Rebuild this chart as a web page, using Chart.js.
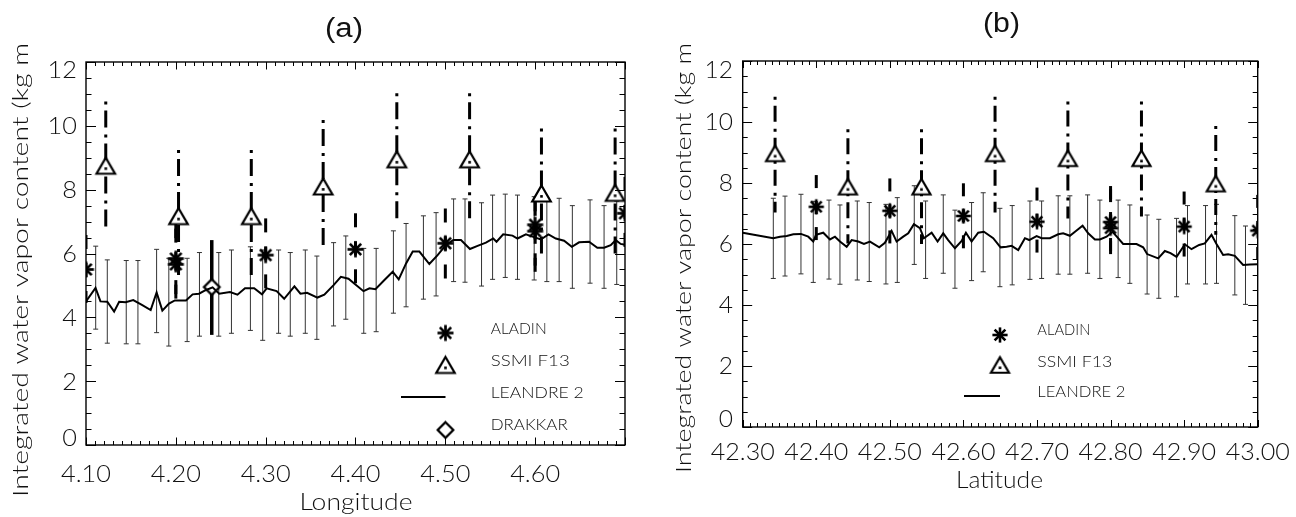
<!DOCTYPE html>
<html><head><meta charset="utf-8">
<script src="https://cdn.jsdelivr.net/npm/chart.js@4.4.1/dist/chart.umd.min.js"></script>
<style>
html,body{margin:0;padding:0;background:#fff;width:1296px;height:517px;overflow:hidden}
canvas{position:absolute;top:0}
#ca{left:0}#cb{left:648px}
</style></head><body>
<canvas id="ca" width="648" height="517"></canvas>
<canvas id="cb" width="648" height="517"></canvas>
<script>
// ---------- Panel (a): longitude section ----------
const lonLineA = [4.100,4.1106,4.1161,4.1237,4.1313,4.1369,4.1442,4.1526,4.1622,4.1720,4.1786,4.1850,4.1924,4.1989,4.2113,4.2187,4.2258,4.2331,4.2409,4.2483,4.2603,4.2686,4.2770,4.2872,4.2959,4.3011,4.3122,4.3206,4.3320,4.3387,4.3461,4.3576,4.3653,4.3756,4.3837,4.3922,4.3989,4.4089,4.4156,4.4222,4.4322,4.4414,4.4481,4.4563,4.4637,4.4711,4.4822,4.4914,4.5008,4.5089,4.5174,4.5274,4.5359,4.5452,4.5533,4.5570,4.5644,4.5748,4.5803,4.5897,4.5970,4.6063,4.6148,4.6230,4.6322,4.6408,4.6489,4.6600,4.6692,4.6767,4.6841,4.6897,4.6952,4.7000];
const iwvLineA = [4.50,4.92,4.50,4.49,4.18,4.49,4.47,4.54,4.39,4.23,4.78,4.21,4.43,4.53,4.53,4.72,4.74,4.85,4.94,4.74,4.79,4.71,4.91,4.91,4.72,4.91,4.82,4.58,4.97,4.74,4.77,4.62,4.71,5.01,5.27,5.21,5.05,4.82,4.91,4.88,5.17,5.43,5.19,5.69,6.06,6.06,5.67,5.95,6.27,6.42,6.42,6.14,6.24,6.34,6.47,6.37,6.60,6.56,6.47,6.60,6.53,6.44,6.60,6.47,6.40,6.21,6.35,6.37,6.18,6.18,6.26,6.42,6.30,6.27];
const lonBarsA = [4.1108,4.1237,4.1448,4.1578,4.1786,4.1922,4.2126,4.2263,4.2478,4.2619,4.2830,4.2967,4.3144,4.3274,4.3441,4.3570,4.3756,4.3892,4.4092,4.4230,4.4422,4.4563,4.4756,4.4897,4.5092,4.5219,4.5403,4.5526,4.5667,4.5803,4.5989,4.6130,4.6267,4.6414,4.6611,4.6767,4.6908];
const barLoA = [3.63,3.19,3.17,3.17,3.52,3.10,3.24,3.41,3.41,3.50,3.59,3.28,3.50,3.41,3.50,3.31,3.73,3.94,3.50,3.55,4.13,4.33,4.57,4.67,5.12,5.10,4.98,5.19,5.25,5.19,5.17,5.12,5.12,4.91,5.07,4.91,5.03];
const barHiA = [6.23,5.80,5.78,5.78,6.13,5.85,5.85,6.03,6.03,6.11,6.21,6.11,6.11,6.03,6.11,5.92,6.34,6.55,6.16,6.16,6.71,6.94,7.18,7.28,7.71,7.71,7.59,7.83,7.86,7.83,7.78,7.73,7.73,7.50,7.68,7.50,7.64];
const lonAladinA = [4.10,4.20,4.20,4.30,4.40,4.50,4.60,4.60,4.70];
const iwvAladinA = [5.50,5.84,5.66,5.95,6.13,6.32,6.90,6.70,7.26];
const aladinLoA  = [4.45,4.72,4.58,4.86,4.95,5.10,5.62,5.42,6.10];
const aladinHiA  = [6.58,6.92,6.78,7.10,7.26,7.41,7.76,7.62,8.40];
const lonSsmiA = [4.122,4.203,4.284,4.364,4.446,4.527,4.607,4.689];
const iwvSsmiA = [8.75,7.17,7.17,8.10,8.95,8.95,7.88,7.90];
const ssmiLoA  = [6.84,5.20,5.15,6.21,7.00,7.00,5.85,5.90];
const ssmiHiA  = [10.76,9.24,9.24,10.18,11.02,11.02,9.92,9.92];
const lonDrakkar = [4.240];
const iwvDrakkar = [4.95];
const drakkarLo  = [3.45];
const drakkarHi  = [6.42];
const lonTicks = [4.10,4.20,4.30,4.40,4.50,4.60];
const lonTickLabels = ['4.10','4.20','4.30','4.40','4.50','4.60'];

// ---------- Panel (b): latitude section ----------
const latLineB = [42.300,42.3416,42.3507,42.3598,42.3688,42.3792,42.3891,42.3959,42.3996,42.4095,42.4186,42.4254,42.4322,42.4413,42.4481,42.4571,42.4648,42.4730,42.4856,42.4933,42.5024,42.5092,42.5182,42.5250,42.5327,42.5409,42.5463,42.5568,42.5649,42.5726,42.5793,42.5885,42.5976,42.6034,42.6111,42.6201,42.6279,42.6405,42.6505,42.6587,42.6655,42.6745,42.6836,42.6894,42.6995,42.7063,42.7175,42.7288,42.7356,42.7447,42.7538,42.7620,42.7696,42.7787,42.7855,42.7946,42.8027,42.8103,42.8171,42.8262,42.8353,42.8443,42.8497,42.8647,42.8738,42.8815,42.8897,42.9010,42.9100,42.9204,42.9281,42.9372,42.9440,42.9530,42.9598,42.9689,42.9802,42.9893,43.0000];
const iwvLineB = [6.37,6.19,6.24,6.26,6.32,6.33,6.24,6.08,6.30,6.37,6.15,6.24,6.08,5.91,6.13,6.08,6.00,6.08,5.89,6.04,6.43,6.08,6.24,6.35,6.65,6.52,6.19,6.37,6.08,6.35,6.13,5.86,6.10,6.37,6.08,6.37,6.40,6.19,5.89,5.91,5.94,5.80,6.19,6.13,6.26,6.19,6.19,6.32,6.35,6.27,6.44,6.60,6.35,6.15,6.15,6.24,6.40,6.19,6.00,6.00,6.00,5.89,5.67,5.53,5.77,5.70,5.58,5.99,5.83,5.97,6.02,6.30,6.00,5.64,5.66,5.61,5.31,5.33,5.34];
const latBarsB = [42.3416,42.3575,42.3792,42.3959,42.4173,42.4322,42.4557,42.4720,42.4947,42.5101,42.5332,42.5486,42.5726,42.5885,42.6111,42.6269,42.6496,42.6663,42.6904,42.7063,42.7288,42.7447,42.7688,42.7855,42.8103,42.8262,42.8497,42.8656,42.8897,42.9046,42.9291,42.9440,42.9689,42.9834];
const barLoB = [4.87,4.95,5.02,4.74,4.85,4.68,4.82,4.77,4.69,4.74,5.33,4.87,5.04,4.55,4.80,5.09,4.60,4.66,4.84,4.87,5.01,5.01,5.04,4.87,4.90,4.71,4.36,4.22,4.27,4.69,4.69,4.71,4.33,4.02];
const barHiB = [7.50,7.57,7.63,7.40,7.44,7.28,7.41,7.36,7.30,7.52,7.91,7.41,7.61,7.11,7.36,7.68,7.17,7.26,7.41,7.41,7.58,7.58,7.61,7.44,7.44,7.28,6.95,6.81,6.84,7.26,7.26,7.30,6.93,6.59];
const latAladinB = [42.40,42.50,42.60,42.70,42.80,42.80,42.90,43.00];
const iwvAladinB = [7.22,7.09,6.92,6.73,6.72,6.52,6.57,6.44];
const aladinLoB  = [5.86,5.73,5.58,5.42,5.40,5.28,5.31,5.17];
const aladinHiB  = [8.26,8.15,7.99,7.85,7.90,7.80,7.72,7.61];
const latSsmiB = [42.344,42.443,42.543,42.643,42.742,42.842,42.943];
const iwvSsmiB = [8.97,7.88,7.88,8.97,8.81,8.81,7.98];
const ssmiLoB  = [7.03,6.02,6.00,7.03,6.84,6.90,6.30];
const ssmiHiB  = [10.83,9.76,9.76,10.83,10.67,10.67,9.87];
const latTicks = [42.30,42.40,42.50,42.60,42.70,42.80,42.90,43.00];
const latTickLabels = ['42.30','42.40','42.50','42.60','42.70','42.80','42.90','43.00'];

// ---------- shared ----------
const iwvTicks = [0,2,4,6,8,10,12];
const iwvTickLabels = ['0','2','4','6','8','10','12'];
const yTitle = 'Integrated water vapor content (kg m';
const legendNames = ['ALADIN','SSMI F13','LEANDRE 2','DRAKKAR'];

// ---------- marker images ----------
function mkCanvas(w,h){const c=document.createElement('canvas');c.width=w;c.height=h;return c;}
function asterisk(r,lw){
  const s=Math.ceil(2*r+lw+2), c=mkCanvas(s,s), g=c.getContext('2d'), m=s/2;
  g.strokeStyle='#000';g.lineWidth=lw;
  for(let k=0;k<4;k++){const an=k*Math.PI/4;g.beginPath();
    g.moveTo(m+r*Math.sin(an),m-r*Math.cos(an));g.lineTo(m-r*Math.sin(an),m+r*Math.cos(an));g.stroke();}
  return c;
}
function triangle(w,h,lw){
  const W=Math.ceil(w+lw*2+2),H=Math.ceil(h+lw*2+2),c=mkCanvas(W,H),g=c.getContext('2d');
  const cx=W/2, top=(H-h)/2, bot=top+h;
  g.lineWidth=lw;g.strokeStyle='#000';g.fillStyle='#fff';g.lineJoin='miter';
  g.beginPath();g.moveTo(cx,top);g.lineTo(cx+w/2,bot);g.lineTo(cx-w/2,bot);g.closePath();g.fill();g.stroke();
  g.fillStyle='#000';g.fillRect(cx-1.3,top+h*0.68-1.3,2.6,2.6);
  return c;
}
function diamond(r,lw){
  const s=Math.ceil(2*r+lw*2+2),c=mkCanvas(s,s),g=c.getContext('2d'),m=s/2;
  g.lineWidth=lw;g.strokeStyle='#000';g.fillStyle='#fff';
  g.beginPath();g.moveTo(m,m-r);g.lineTo(m+r,m);g.lineTo(m,m+r);g.lineTo(m-r,m);g.closePath();g.fill();g.stroke();
  return c;
}
const AST=asterisk(8,2.7), TRI=triangle(18.5,16,2.2), DIA=diamond(7.8,2.3);
const ASTb=asterisk(7.6,2.6), TRIb=triangle(18,15.5,2.2);

// ---------- plugins ----------
const errPlugin={
  id:'err',
  beforeDatasetsDraw(chart){
    const {ctx,chartArea:a,scales:{x,y}}=chart;
    ctx.save();ctx.beginPath();ctx.rect(a.left,a.top,a.right-a.left,a.bottom-a.top);ctx.clip();
    chart.data.datasets.forEach(ds=>{
      if(!ds.errLo) return;
      ds.data.forEach((p,i)=>{
        const px=x.getPixelForValue(p.x), yt=y.getPixelForValue(ds.errHi[i]), yb=y.getPixelForValue(ds.errLo[i]);
        ctx.beginPath();ctx.setLineDash(ds.errDash||[]);ctx.lineDashOffset=0;
        ctx.strokeStyle=ds.errColor||'#000';ctx.lineWidth=ds.errWidth||1;ctx.lineCap='butt';
        ctx.moveTo(px,yt);ctx.lineTo(px,yb);ctx.stroke();
        if(ds.errCap){ctx.setLineDash([]);ctx.beginPath();
          ctx.moveTo(px-ds.errCap,yt);ctx.lineTo(px+ds.errCap,yt);
          ctx.moveTo(px-ds.errCap,yb);ctx.lineTo(px+ds.errCap,yb);ctx.stroke();}
      });
    });
    ctx.restore();
  }
};
function fitText(ctx,txt,x,y,font,targetW,align,baseline,rot){
  ctx.save();ctx.font=font;const w=ctx.measureText(txt).width;const sx=targetW?targetW/w:1;
  ctx.translate(x,y);if(rot)ctx.rotate(rot);ctx.scale(sx,1);
  ctx.textAlign=align;ctx.textBaseline=baseline;ctx.fillStyle='#111';ctx.fillText(txt,0,0);ctx.restore();
}
const LIGHT='300 ', FAM='Lato, "Open Sans", "DejaVu Sans", sans-serif';
const decoPlugin={
  id:'deco',
  afterDraw(chart,args,o){
    const {ctx,chartArea:a,scales:{x,y}}=chart;
    ctx.save();
    ctx.strokeStyle='#000';ctx.lineWidth=1;ctx.setLineDash([]);
    const seg=(x1,y1,x2,y2)=>{ctx.beginPath();ctx.moveTo(x1,y1);ctx.lineTo(x2,y2);ctx.stroke();};
    const nx=Math.round((x.max-x.min)/o.xMinor);
    for(let k=0;k<=nx;k++){
      const px=Math.round(x.getPixelForValue(x.min+k*o.xMinor))+0.5;
      const L=(k%o.xPer===0)?o.xMajLen:o.xMinLen;
      seg(px,a.bottom,px,a.bottom-L);seg(px,a.top,px,a.top+L);
    }
    const ny=Math.round((y.max-y.min)/o.yMinor);
    for(let k=0;k<=ny;k++){
      const py=Math.round(y.getPixelForValue(y.min+k*o.yMinor))+0.5;
      const L=(k%o.yPer===0)?o.yMajLen:o.yMinLen;
      seg(a.left,py,a.left+L,py);seg(a.right,py,a.right-L,py);
    }
    ctx.lineWidth=1.4;ctx.strokeRect(a.left,a.top,a.right-a.left,a.bottom-a.top);
    // x tick labels
    ctx.font=LIGHT+o.tickFont+'px '+FAM;
    const sxRef=o.xRefW/ctx.measureText(o.xLabels[0]).width;
    o.xTicks.forEach((v,i)=>{
      const px=x.getPixelForValue(v);
      ctx.save();ctx.font=LIGHT+o.tickFont+'px '+FAM;ctx.translate(px,o.xLabBase);ctx.scale(sxRef,1);
      ctx.textAlign='center';ctx.textBaseline='alphabetic';ctx.fillStyle='#111';ctx.fillText(o.xLabels[i],0,0);ctx.restore();
    });
    // y tick labels
    iwvTicks.forEach((v,i)=>{
      let py=y.getPixelForValue(v);
      if(v===y.max) py+=o.edgeShift; if(v===y.min) py-=o.edgeShift;
      ctx.save();ctx.font=LIGHT+o.yTickFont+'px '+FAM;ctx.translate(o.yLabRight,py+o.digitH/2);ctx.scale(sxRef,1);
      ctx.textAlign='right';ctx.textBaseline='alphabetic';ctx.fillStyle='#111';ctx.fillText(iwvTickLabels[i],0,0);ctx.restore();
    });
    // titles
    fitText(ctx,o.title,o.titleX,o.titleY,'27px "Liberation Sans", Arial, sans-serif',o.titleW,'center','middle');
    fitText(ctx,o.xTitle,o.xTitleX,o.xTitleBase,LIGHT+o.tickFont+'px '+FAM,o.xTitleW,'center','alphabetic');
    fitText(ctx,yTitle,o.yTitleX,o.yTitleStart,LIGHT+o.yTitleFont+'px '+FAM,o.yTitleLen,'left','middle',-Math.PI/2);
    // legend
    o.legend.forEach(it=>{
      if(it.img){ctx.drawImage(it.img,o.legSymX-it.img.width/2,it.sy-it.img.height/2);}
      else {ctx.lineWidth=2;ctx.strokeStyle='#000';seg(o.legLineX0,it.sy,o.legSymX,it.sy);}
      fitText(ctx,it.label,o.legTextX,it.ty+o.legCap/2,LIGHT+o.legFont+'px '+FAM,it.w,'left','alphabetic');
    });
    ctx.restore();
  }
};

function pts(xs,ys){return xs.map((v,i)=>({x:v,y:ys[i]}));}
function makeChart(id,cfg){
  return new Chart(document.getElementById(id),{
    type:'scatter',
    data:{datasets:[
      {label:'LEANDRE 2 std',data:pts(cfg.barX,cfg.barLo.map((v,i)=>(v+cfg.barHi[i])/2)),pointRadius:0,showLine:false,
        errLo:cfg.barLo,errHi:cfg.barHi,errWidth:1,errColor:'#333',errCap:2.5},
      {label:legendNames[2],data:pts(cfg.lineX,cfg.lineY),showLine:true,borderColor:'#000',backgroundColor:'#000',borderWidth:2,pointRadius:0,tension:0,clip:0},
      {label:legendNames[0],data:pts(cfg.alX,cfg.alY),pointStyle:cfg.ast,pointRadius:7,clip:0,
        errLo:cfg.alLo,errHi:cfg.alHi,errWidth:3,errDash:cfg.alDash},
      {label:legendNames[1],data:pts(cfg.ssX,cfg.ssY),pointStyle:cfg.tri,pointRadius:8,clip:0,
        errLo:cfg.ssLo,errHi:cfg.ssHi,errWidth:3,errDash:cfg.ssDash},
      ...(cfg.drX?[{label:legendNames[3],data:pts(cfg.drX,cfg.drY),pointStyle:DIA,pointRadius:8,clip:0,
        errLo:cfg.drLo,errHi:cfg.drHi,errWidth:3.5}]:[])
    ]},
    options:{
      responsive:false,animation:false,devicePixelRatio:1,
      layout:{padding:cfg.pad},
      scales:{
        x:{type:'linear',display:false,min:cfg.xMin,max:cfg.xMax},
        y:{type:'linear',display:false,min:0,max:12}
      },
      plugins:{legend:{display:false},tooltip:{enabled:false},deco:cfg.deco}
    },
    plugins:[errPlugin,decoPlugin]
  });
}

makeChart('ca',{
  lineX:lonLineA,lineY:iwvLineA,barX:lonBarsA,barLo:barLoA,barHi:barHiA,
  alX:lonAladinA,alY:iwvAladinA,alLo:aladinLoA,alHi:aladinHiA,alDash:[14,14],
  ssX:lonSsmiA,ssY:iwvSsmiA,ssLo:ssmiLoA,ssHi:ssmiHiA,ssDash:[3,6,17,7],
  drX:lonDrakkar,drY:iwvDrakkar,drLo:drakkarLo,drHi:drakkarHi,
  ast:AST,tri:TRI,xMin:4.10,xMax:4.70,
  pad:{left:86,right:23,top:62,bottom:72},
  deco:{xMinor:0.01,xPer:10,xMajLen:7.5,xMinLen:4,yMinor:0.5,yPer:4,yMajLen:10,yMinLen:5.5,
    xTicks:lonTicks,xLabels:lonTickLabels,xRefW:50,xLabBase:482,tickFont:23.5,yTickFont:23.5,digitH:17,
    yLabRight:77,edgeShift:7.8,
    title:'(a)',titleX:344,titleY:29.5,titleW:38,
    xTitle:'Longitude',xTitleX:356,xTitleBase:510,xTitleW:113,
    yTitleX:21,yTitleStart:497,yTitleLen:454,yTitleFont:22,
    legSymX:445.5,legLineX0:401,legTextX:490.7,legFont:16,legCap:11.5,
    legend:[{img:AST,sy:333,ty:328.3,label:legendNames[0],w:56},
            {img:TRI,sy:365,ty:360,label:legendNames[1],w:79},
            {img:null,sy:397,ty:392,label:legendNames[2],w:93},
            {img:DIA,sy:430,ty:424,label:legendNames[3],w:77}]}
});

makeChart('cb',{
  lineX:latLineB,lineY:iwvLineB,barX:latBarsB,barLo:barLoB,barHi:barHiB,
  alX:latAladinB,alY:iwvAladinB,alLo:aladinLoB,alHi:aladinHiB,alDash:[13,13],
  ssX:latSsmiB,ssY:iwvSsmiB,ssLo:ssmiLoB,ssHi:ssmiHiB,ssDash:[3,6,16,7],
  ast:ASTb,tri:TRIb,xMin:42.30,xMax:43.00,
  pad:{left:94.7,right:38.3,top:61,bottom:90},
  deco:{xMinor:0.01,xPer:10,xMajLen:7,xMinLen:4,yMinor:0.5,yPer:4,yMajLen:9.5,yMinLen:5,
    xTicks:latTicks,xLabels:latTickLabels,xRefW:64,xLabBase:460,tickFont:23,yTickFont:22.5,digitH:16.5,
    yLabRight:85,edgeShift:8.5,
    title:'(b)',titleX:353.5,titleY:25,titleW:37,
    xTitle:'Latitude',xTitleX:351.5,xTitleBase:488,xTitleW:87,
    yTitleX:36,yTitleStart:473,yTitleLen:430,yTitleFont:21,
    legSymX:352,legLineX0:316,legTextX:389.3,legFont:15.5,legCap:11.5,
    legend:[{img:ASTb,sy:335,ty:329.5,label:legendNames[0],w:53},
            {img:TRIb,sy:365,ty:361,label:legendNames[1],w:75},
            {img:null,sy:396,ty:391,label:legendNames[2],w:88}]}
});
</script>
</body></html>
